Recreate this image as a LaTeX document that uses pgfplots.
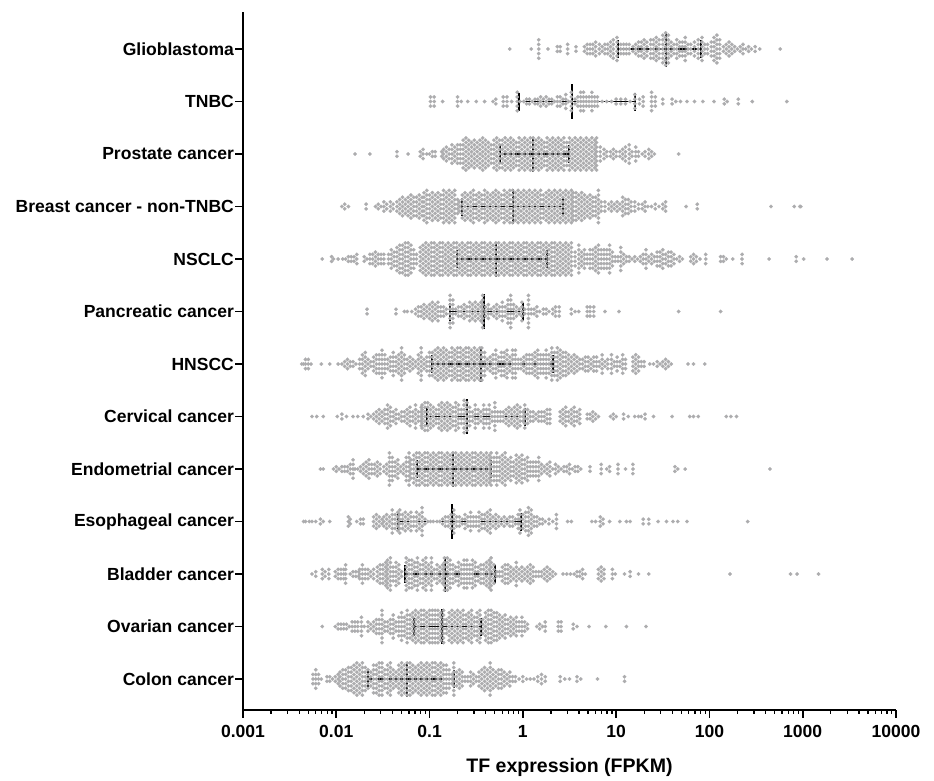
\documentclass[border=0pt]{standalone}
\usepackage{fontspec}
\setmainfont{Liberation Sans}
\usepackage{pgfplots}
\pgfplotsset{compat=1.18}
\definecolor{dotgray}{RGB}{172,172,174}
% Each swarm column is log10(FPKM)/number of samples stacked in that column.
\newcommand\swarmrow[2]{%
  \gdef\coords{}%
  \foreach \lg/\n in {#2}{%
    \pgfmathtruncatemacro\e{floor(\lg)}%
    \pgfmathsetmacro\m{10^((\lg)-(\e))}%
    \foreach \k in {1,...,\n}{%
      \pgfmathsetmacro\yy{#1+(\k-(\n+1)/2)*0.0876}%
      \xdef\coords{\coords (\m e\e,\yy)}%
    }%
  }%
  \edef\tmp{\noexpand\addplot[only marks,mark=*,mark size=1.85bp,mark options={draw=dotgray,fill=dotgray,line width=0.1bp}] coordinates {\coords};}%
  \tmp
}
\begin{document}
\begin{tikzpicture}
\path[use as bounding box] (0,0) rectangle (934bp,781bp);
\begin{axis}[
  at={(243bp,71bp)},anchor=south west,scale only axis,width=653bp,height=698bp,
  xmode=log,log basis x=10,xmin=0.001,xmax=10000,ymin=0,ymax=13.295,
  axis x line=bottom,axis y line=left,
  axis line style={-,line width=1.8bp,black},
  xtick={0.001,0.01,0.1,1,10,100,1000,10000},
  xticklabels={0.001,0.01,0.1,1,10,100,1000,10000},
  minor xtick={0.002,0.003,0.004,0.005,0.006,0.007,0.008,0.009,0.02,0.03,0.04,0.05,0.06,0.07,0.08,0.09,0.2,0.3,0.4,0.5,0.6,0.7,0.8,0.9,2,3,4,5,6,7,8,9,20,30,40,50,60,70,80,90,200,300,400,500,600,700,800,900,2000,3000,4000,5000,6000,7000,8000,9000},
  ytick={0.59,1.59,2.59,3.59,4.59,5.59,6.59,7.59,8.59,9.59,10.59,11.59,12.59},
  yticklabels={Colon cancer,Ovarian cancer,Bladder cancer,Esophageal cancer,Endometrial cancer,Cervical cancer,HNSCC,Pancreatic cancer,NSCLC,Breast cancer - non-TNBC,Prostate cancer,TNBC,Glioblastoma},
  tick align=outside,
  major tick length=8bp,minor tick length=4bp,
  major tick style={line width=1.7bp,black},minor tick style={line width=1.3bp,black},
  tick label style={font=\fontsize{17.6}{20}\selectfont\bfseries},
  yticklabel style={inner sep=1bp},
  xticklabel style={yshift=-4bp},
  xlabel={TF expression (FPKM)},
  xlabel style={font=\fontsize{19.6}{22}\selectfont\bfseries,at={(axis description cs:0.5,0)},anchor=north,yshift=-45bp},
  clip=false,unbounded coords=jump,
]
% IQR lines, caps and medians (FPKM)
\addplot[black,line width=1.7bp] coordinates {
 (10.5,12.59)(82,12.59)(1,nan)(0.9,11.59)(16,11.59)(1,nan)(0.57,10.59)(3.1,10.59)(1,nan)
 (0.22,9.59)(2.7,9.59)(1,nan)(0.197,8.59)(1.81,8.59)(1,nan)(0.165,7.59)(1.0,7.59)(1,nan)
 (0.105,6.59)(2.1,6.59)(1,nan)(0.095,5.59)(1.05,5.59)(1,nan)(0.073,4.59)(0.45,4.59)(1,nan)
 (0.046,3.59)(0.95,3.59)(1,nan)(0.055,2.59)(0.5,2.59)(1,nan)(0.068,1.59)(0.36,1.59)(1,nan)
 (0.022,0.59)(0.185,0.59)};
\addplot[only marks,mark=|,mark size=9bp,mark options={line width=2bp,black}] coordinates {
 (10.5,12.59)(82,12.59)(0.9,11.59)(16,11.59)(0.57,10.59)(3.1,10.59)(0.22,9.59)(2.7,9.59)
 (0.197,8.59)(1.81,8.59)(0.165,7.59)(1.0,7.59)(0.105,6.59)(2.1,6.59)(0.095,5.59)(1.05,5.59)
 (0.073,4.59)(0.45,4.59)(0.046,3.59)(0.95,3.59)(0.055,2.59)(0.5,2.59)(0.068,1.59)(0.36,1.59)
 (0.022,0.59)(0.185,0.59)};
\addplot[only marks,mark=|,mark size=17.5bp,mark options={line width=2bp,black}] coordinates {
 (34,12.59)(3.4,11.59)(1.3,10.59)(0.78,9.59)(0.515,8.59)(0.38,7.59)(0.36,6.59)(0.25,5.59)
 (0.18,4.59)(0.175,3.59)(0.145,2.59)(0.135,1.59)(0.058,0.59)};
% Glioblastoma
\swarmrow{12.59}{-0.14/1,0.09/1,0.17/5,0.27/1,0.37/2,0.40/2,0.48/3,0.57/2,0.66/2,0.69/3,0.72/3,0.75/3,0.78/4,0.82/3,0.85/2,0.88/3,0.91/3,0.94/4,0.97/5,1.01/6,1.05/3,1.08/3,1.11/3,1.14/3,1.18/2,1.21/3,1.24/4,1.27/4,1.30/5,1.33/4,1.37/5,1.40/5,1.43/6,1.46/5,1.50/7,1.53/8,1.56/7,1.59/4,1.62/3,1.65/5,1.68/4,1.71/4,1.74/6,1.77/3,1.80/3,1.84/4,1.88/5,1.92/6,1.95/3,1.98/3,2.02/4,2.05/6,2.08/7,2.11/5,2.15/2,2.18/3,2.21/4,2.24/3,2.27/2,2.30/1,2.33/2,2.36/3,2.39/1,2.42/2,2.45/1,2.49/2,2.54/1,2.76/1}
% TNBC
\swarmrow{11.59}{-0.99/3,-0.95/3,-0.86/1,-0.70/3,-0.66/1,-0.59/1,-0.50/1,-0.41/1,-0.32/1,-0.29/2,-0.21/3,-0.17/3,-0.12/1,-0.06/5,-0.03/1,0.01/1,0.04/2,0.07/2,0.10/1,0.13/2,0.16/2,0.19/3,0.22/2,0.25/3,0.28/2,0.31/2,0.34/1,0.37/3,0.40/3,0.43/2,0.46/4,0.49/1,0.52/5,0.56/2,0.59/3,0.62/5,0.65/5,0.68/3,0.71/3,0.74/5,0.77/3,0.80/3,0.85/1,0.90/1,0.95/1,1.00/2,1.05/2,1.10/2,1.15/1,1.20/4,1.25/2,1.29/3,1.38/5,1.42/3,1.50/2,1.60/2,1.64/1,1.69/1,1.76/1,1.84/1,1.93/1,2.05/1,2.16/2,2.19/1,2.31/2,2.46/1,2.83/1}
% Prostate
\swarmrow{10.59}{-1.80/1,-1.64/1,-1.35/2,-1.23/1,-1.10/2,-1.07/3,-1.03/1,-1.00/1,-0.97/2,-0.94/2,-0.87/2,-0.85/3,-0.82/4,-0.79/3,-0.76/5,-0.73/4,-0.70/5,-0.67/5,-0.64/7,-0.61/8,-0.58/7,-0.55/6,-0.52/7,-0.49/6,-0.46/7,-0.43/8,-0.40/7,-0.37/6,-0.34/5,-0.31/7,-0.28/8,-0.25/7,-0.22/7,-0.19/8,-0.16/7,-0.13/8,-0.10/7,-0.07/6,-0.04/8,-0.01/7,0.02/8,0.05/7,0.08/8,0.11/8,0.14/7,0.17/8,0.20/7,0.23/6,0.26/8,0.29/7,0.32/8,0.35/7,0.38/8,0.41/7,0.44/8,0.47/6,0.50/8,0.53/7,0.56/8,0.59/7,0.62/8,0.65/7,0.68/8,0.71/7,0.74/8,0.77/7,0.79/8,0.83/4,0.87/3,0.90/2,0.94/2,0.97/3,1.00/2,1.04/2,1.07/3,1.10/4,1.14/5,1.17/2,1.21/4,1.24/2,1.28/1,1.31/2,1.35/3,1.38/2,1.41/1,1.67/1}
% Breast non-TNBC
\swarmrow{9.59}{-1.94/1,-1.91/2,-1.87/1,-1.68/2,-1.58/1,-1.55/2,-1.52/1,-1.49/3,-1.46/2,-1.42/3,-1.39/2,-1.35/3,-1.32/4,-1.29/5,-1.26/4,-1.23/5,-1.20/6,-1.17/5,-1.14/5,-1.11/6,-1.08/5,-1.06/7,-1.03/8,-1.00/6,-0.97/7,-0.94/6,-0.91/7,-0.88/6,-0.85/8,-0.82/7,-0.79/8,-0.76/7,-0.73/8,-0.70/4,-0.68/3,-0.65/6,-0.62/7,-0.59/6,-0.56/7,-0.53/8,-0.50/6,-0.47/7,-0.44/6,-0.41/8,-0.38/7,-0.35/6,-0.32/7,-0.29/8,-0.26/7,-0.23/6,-0.20/8,-0.17/7,-0.14/8,-0.11/8,-0.08/7,-0.05/8,-0.02/7,0.01/8,0.04/7,0.07/8,0.10/7,0.13/8,0.16/7,0.19/8,0.22/6,0.25/7,0.28/8,0.31/7,0.34/8,0.37/7,0.40/8,0.43/7,0.46/8,0.49/7,0.52/8,0.54/7,0.57/7,0.60/6,0.63/7,0.66/6,0.69/5,0.72/6,0.75/5,0.78/5,0.81/8,0.84/3,0.88/3,0.92/2,0.95/3,0.98/2,1.01/3,1.04/2,1.07/5,1.10/4,1.13/4,1.16/3,1.20/3,1.24/2,1.28/2,1.31/3,1.34/1,1.38/1,1.42/2,1.46/1,1.50/2,1.53/3,1.75/1,1.87/2,2.66/1,2.91/1,2.97/1,2.98/1}
% NSCLC
\swarmrow{8.59}{-2.15/1,-2.05/2,-2.03/1,-1.98/1,-1.93/1,-1.90/1,-1.87/2,-1.84/2,-1.81/2,-1.78/3,-1.70/2,-1.67/1,-1.64/3,-1.61/3,-1.58/4,-1.55/3,-1.52/3,-1.49/3,-1.44/3,-1.41/5,-1.38/4,-1.35/6,-1.32/7,-1.29/7,-1.26/8,-1.23/8,-1.20/7,-1.17/5,-1.14/3,-1.10/6,-1.07/7,-1.04/8,-1.01/7,-0.98/8,-0.95/8,-0.92/7,-0.89/8,-0.86/8,-0.83/7,-0.80/8,-0.77/7,-0.74/8,-0.71/8,-0.68/7,-0.65/8,-0.62/7,-0.59/8,-0.56/8,-0.53/7,-0.50/8,-0.47/7,-0.44/8,-0.41/8,-0.38/7,-0.35/8,-0.32/7,-0.29/8,-0.26/8,-0.23/7,-0.20/8,-0.17/7,-0.14/8,-0.11/8,-0.08/7,-0.05/8,-0.02/7,0.01/8,0.04/8,0.07/7,0.10/8,0.13/7,0.16/8,0.19/8,0.22/7,0.25/8,0.28/7,0.31/8,0.34/8,0.37/7,0.40/8,0.43/7,0.46/8,0.49/7,0.52/8,0.56/4,0.60/7,0.63/4,0.66/5,0.69/3,0.72/5,0.75/5,0.78/6,0.81/7,0.84/5,0.87/5,0.90/5,0.93/7,0.96/4,0.99/2,1.02/2,1.05/6,1.08/3,1.11/2,1.14/2,1.17/1,1.20/2,1.23/1,1.26/2,1.29/3,1.32/5,1.35/2,1.38/3,1.41/2,1.44/4,1.47/4,1.50/5,1.53/3,1.56/4,1.59/4,1.62/3,1.65/1,1.68/2,1.71/1,1.80/2,1.83/3,1.86/2,1.90/1,1.96/3,2.12/2,2.15/2,2.18/1,2.25/1,2.35/3,2.64/1,2.93/2,3.01/1,3.26/1,3.53/1}
% Pancreatic
\swarmrow{7.59}{-1.67/2,-1.36/2,-1.27/1,-1.24/1,-1.19/1,-1.15/2,-1.12/3,-1.09/3,-1.06/4,-1.03/3,-1.00/4,-0.97/5,-0.94/4,-0.91/5,-0.88/3,-0.85/3,-0.82/2,-0.78/8,-0.75/6,-0.72/2,-0.69/3,-0.66/3,-0.63/4,-0.60/3,-0.57/5,-0.54/4,-0.51/5,-0.48/4,-0.45/5,-0.43/8,-0.40/3,-0.37/4,-0.34/2,-0.31/3,-0.28/4,-0.25/3,-0.22/5,-0.19/3,-0.16/6,-0.13/8,-0.10/4,-0.07/3,-0.04/2,-0.01/5,0.02/2,0.06/8,0.09/2,0.12/2,0.15/3,0.18/1,0.22/2,0.25/2,0.28/1,0.32/2,0.35/3,0.39/3,0.52/2,0.56/1,0.60/1,0.69/3,0.72/3,0.76/3,0.88/1,1.03/1,1.67/1,2.12/1}
% HNSCC
\swarmrow{6.59}{-2.37/1,-2.35/1,-2.33/3,-2.30/3,-2.27/1,-2.16/1,-2.07/1,-1.98/1,-1.94/1,-1.91/2,-1.88/3,-1.85/2,-1.82/2,-1.79/1,-1.75/3,-1.72/5,-1.69/6,-1.66/3,-1.63/2,-1.60/4,-1.57/5,-1.54/5,-1.51/7,-1.48/5,-1.45/3,-1.42/4,-1.39/6,-1.36/4,-1.33/5,-1.30/8,-1.27/5,-1.24/3,-1.21/4,-1.18/3,-1.15/2,-1.12/5,-1.09/8,-1.06/3,-1.03/4,-1.00/6,-0.97/6,-0.94/7,-0.91/8,-0.88/7,-0.85/8,-0.82/7,-0.79/6,-0.76/8,-0.73/7,-0.70/8,-0.67/8,-0.64/7,-0.61/8,-0.58/8,-0.55/7,-0.52/8,-0.49/7,-0.46/8,-0.44/8,-0.41/6,-0.38/3,-0.35/4,-0.32/5,-0.29/7,-0.26/4,-0.23/6,-0.20/6,-0.17/7,-0.14/4,-0.11/7,-0.08/7,-0.05/3,-0.02/3,0.01/4,0.04/5,0.07/5,0.10/5,0.13/6,0.16/7,0.19/5,0.22/5,0.25/7,0.28/5,0.31/8,0.34/6,0.37/8,0.40/7,0.43/6,0.46/6,0.49/5,0.52/4,0.55/5,0.58/4,0.61/3,0.64/3,0.67/4,0.70/4,0.73/3,0.76/4,0.79/4,0.82/2,0.85/5,0.88/2,0.91/3,0.95/5,0.98/2,1.01/4,1.04/2,1.07/5,1.10/3,1.18/4,1.21/5,1.24/4,1.27/2,1.30/2,1.36/1,1.40/1,1.44/2,1.47/1,1.50/2,1.53/3,1.56/2,1.59/1,1.77/1,1.83/1,1.95/1}
% Cervical
\swarmrow{5.59}{-2.26/1,-2.21/1,-2.14/1,-1.99/1,-1.94/2,-1.89/1,-1.82/1,-1.77/1,-1.71/1,-1.66/2,-1.63/1,-1.60/2,-1.57/3,-1.54/4,-1.51/3,-1.48/4,-1.45/6,-1.42/5,-1.39/3,-1.36/4,-1.33/2,-1.30/3,-1.27/3,-1.24/4,-1.21/5,-1.18/3,-1.15/6,-1.12/3,-1.09/5,-1.08/6,-1.05/7,-1.02/7,-0.99/6,-0.96/5,-0.93/4,-0.90/6,-0.87/7,-0.84/6,-0.81/7,-0.78/6,-0.75/5,-0.72/7,-0.69/6,-0.66/4,-0.63/8,-0.60/7,-0.57/5,-0.54/3,-0.51/6,-0.48/4,-0.45/3,-0.42/6,-0.39/4,-0.36/6,-0.33/3,-0.30/7,-0.27/3,-0.24/3,-0.21/3,-0.18/4,-0.15/5,-0.12/4,-0.09/5,-0.06/6,-0.03/5,0.00/3,0.02/6,0.05/4,0.08/3,0.11/3,0.14/2,0.17/3,0.20/3,0.23/3,0.26/4,0.29/4,0.40/3,0.43/4,0.46/5,0.49/3,0.52/4,0.55/5,0.58/3,0.61/4,0.69/2,0.72/2,0.75/3,0.78/2,0.81/1,0.94/1,0.97/2,1.00/1,1.08/2,1.13/1,1.20/1,1.24/1,1.27/1,1.31/2,1.40/1,1.60/1,1.79/1,1.83/1,1.88/1,2.18/1,2.23/1,2.29/1}
% Endometrial
\swarmrow{4.59}{-2.17/1,-2.14/1,-2.03/1,-2.00/2,-1.97/1,-1.94/2,-1.91/2,-1.88/2,-1.85/3,-1.82/5,-1.80/1,-1.77/1,-1.74/2,-1.71/3,-1.68/4,-1.65/5,-1.62/3,-1.59/3,-1.56/4,-1.53/3,-1.49/2,-1.46/3,-1.43/8,-1.40/6,-1.37/4,-1.34/5,-1.31/2,-1.28/3,-1.25/6,-1.22/8,-1.20/5,-1.17/7,-1.14/8,-1.11/8,-1.08/7,-1.05/8,-1.02/8,-0.99/7,-0.96/8,-0.93/7,-0.90/8,-0.87/8,-0.84/7,-0.81/8,-0.78/7,-0.75/8,-0.72/8,-0.69/7,-0.66/8,-0.63/7,-0.60/8,-0.57/7,-0.54/8,-0.51/8,-0.48/7,-0.45/8,-0.42/7,-0.39/8,-0.36/7,-0.34/8,-0.31/6,-0.28/8,-0.25/6,-0.22/7,-0.19/8,-0.16/5,-0.13/6,-0.10/4,-0.07/7,-0.04/6,-0.01/7,0.02/5,0.05/6,0.08/4,0.11/4,0.14/4,0.17/6,0.20/3,0.23/2,0.26/3,0.29/4,0.32/1,0.35/3,0.38/2,0.41/1,0.44/2,0.47/2,0.50/3,0.53/1,0.56/2,0.59/2,0.62/1,0.72/2,0.84/3,0.90/1,0.93/2,1.02/3,1.10/1,1.18/3,1.63/2,1.66/1,1.74/1,2.65/1}
% Esophageal
\swarmrow{3.59}{-2.35/1,-2.33/1,-2.29/1,-2.26/1,-2.22/1,-2.17/2,-2.14/1,-2.07/1,-1.87/3,-1.85/2,-1.78/1,-1.74/2,-1.71/2,-1.60/3,-1.57/4,-1.54/3,-1.51/2,-1.49/3,-1.46/4,-1.43/3,-1.40/6,-1.37/4,-1.34/5,-1.32/6,-1.29/4,-1.26/5,-1.23/4,-1.20/5,-1.17/3,-1.14/5,-1.11/4,-1.08/7,-1.05/2,-1.02/1,-0.99/1,-0.96/1,-0.92/1,-0.89/1,-0.86/2,-0.83/3,-0.80/3,-0.77/4,-0.74/6,-0.71/3,-0.68/3,-0.65/2,-0.62/4,-0.59/3,-0.56/5,-0.53/3,-0.50/3,-0.47/5,-0.44/4,-0.41/4,-0.38/5,-0.35/6,-0.32/3,-0.29/4,-0.26/3,-0.23/2,-0.20/3,-0.17/2,-0.14/3,-0.11/3,-0.08/2,-0.05/4,-0.03/6,0.00/4,0.03/5,0.06/7,0.09/6,0.12/3,0.15/3,0.18/2,0.21/2,0.24/1,0.28/2,0.32/1,0.36/4,0.48/1,0.52/1,0.74/1,0.78/1,0.83/3,0.86/2,0.93/1,1.04/1,1.11/1,1.15/1,1.29/2,1.35/2,1.45/1,1.54/1,1.61/1,1.66/1,1.76/1,2.41/1}
% Bladder
\swarmrow{2.59}{-2.26/1,-2.22/2,-2.15/3,-2.12/2,-2.08/3,-2.01/2,-1.98/3,-1.95/3,-1.92/3,-1.90/5,-1.85/1,-1.82/2,-1.79/2,-1.76/2,-1.75/3,-1.72/5,-1.69/3,-1.66/3,-1.63/2,-1.60/3,-1.56/4,-1.53/5,-1.50/5,-1.47/6,-1.45/7,-1.42/8,-1.39/4,-1.36/6,-1.33/5,-1.30/2,-1.25/8,-1.22/7,-1.19/7,-1.16/6,-1.13/8,-1.10/5,-1.07/7,-1.04/8,-1.01/5,-0.98/8,-0.95/3,-0.92/5,-0.89/4,-0.86/5,-0.84/8,-0.81/8,-0.78/7,-0.75/5,-0.72/4,-0.69/6,-0.66/5,-0.63/7,-0.60/7,-0.57/5,-0.54/7,-0.51/6,-0.48/4,-0.45/5,-0.42/5,-0.39/6,-0.36/7,-0.34/8,-0.31/5,-0.28/2,-0.25/2,-0.22/4,-0.19/5,-0.16/5,-0.13/4,-0.10/3,-0.07/6,-0.04/3,-0.01/4,0.02/3,0.05/4,0.08/5,0.11/4,0.14/2,0.17/2,0.20/2,0.23/3,0.26/4,0.29/3,0.32/2,0.35/1,0.43/1,0.47/1,0.51/1,0.55/1,0.58/2,0.61/2,0.64/3,0.67/1,0.81/3,0.84/4,0.87/3,0.96/3,0.99/1,1.09/1,1.15/2,1.24/1,1.35/1,2.22/1,2.87/1,2.94/1,3.17/1}
% Ovarian
\swarmrow{1.59}{-2.15/1,-2.01/1,-1.98/2,-1.95/2,-1.92/2,-1.89/2,-1.86/1,-1.83/3,-1.80/3,-1.77/3,-1.73/5,-1.70/1,-1.66/3,-1.63/2,-1.60/3,-1.57/4,-1.54/4,-1.51/8,-1.48/3,-1.45/3,-1.42/4,-1.39/6,-1.36/3,-1.33/5,-1.30/7,-1.27/5,-1.24/8,-1.21/6,-1.18/7,-1.15/8,-1.12/7,-1.09/8,-1.06/8,-1.03/7,-1.00/8,-0.97/8,-0.94/8,-0.91/8,-0.88/7,-0.85/8,-0.82/4,-0.79/7,-0.76/8,-0.73/7,-0.70/8,-0.67/7,-0.64/8,-0.61/6,-0.58/7,-0.55/8,-0.52/5,-0.49/7,-0.46/8,-0.43/4,-0.40/7,-0.37/8,-0.34/8,-0.31/7,-0.28/7,-0.25/6,-0.22/5,-0.19/6,-0.16/4,-0.13/5,-0.10/4,-0.07/5,-0.04/3,-0.01/5,0.02/3,0.05/2,0.15/1,0.18/2,0.21/1,0.24/3,0.38/3,0.41/3,0.54/2,0.58/1,0.71/1,0.89/1,1.11/1,1.32/1}
% Colon
\swarmrow{0.59}{-2.25/3,-2.22/5,-2.19/3,-2.16/1,-2.10/2,-2.07/2,-2.04/1,-2.01/2,-1.98/3,-1.96/4,-1.93/5,-1.90/5,-1.87/6,-1.84/6,-1.81/7,-1.78/8,-1.75/7,-1.72/8,-1.69/6,-1.66/5,-1.63/4,-1.60/7,-1.57/7,-1.54/8,-1.51/8,-1.48/5,-1.45/7,-1.42/8,-1.39/5,-1.36/4,-1.33/7,-1.30/8,-1.27/7,-1.24/8,-1.21/8,-1.18/7,-1.15/6,-1.12/7,-1.09/8,-1.06/7,-1.03/8,-1.00/7,-0.97/8,-0.94/8,-0.91/7,-0.88/8,-0.85/7,-0.82/7,-0.79/5,-0.76/3,-0.74/8,-0.71/4,-0.68/5,-0.65/4,-0.62/2,-0.59/2,-0.56/4,-0.53/3,-0.50/2,-0.47/4,-0.44/5,-0.41/6,-0.38/5,-0.35/8,-0.32/5,-0.29/4,-0.26/5,-0.23/5,-0.20/4,-0.17/3,-0.14/4,-0.11/2,-0.08/2,-0.04/1,0.00/2,0.04/1,0.08/1,0.12/1,0.16/2,0.20/3,0.24/2,0.40/2,0.45/1,0.50/1,0.58/2,0.62/1,0.80/1,1.09/2}
\end{axis}
\end{tikzpicture}
\end{document}
